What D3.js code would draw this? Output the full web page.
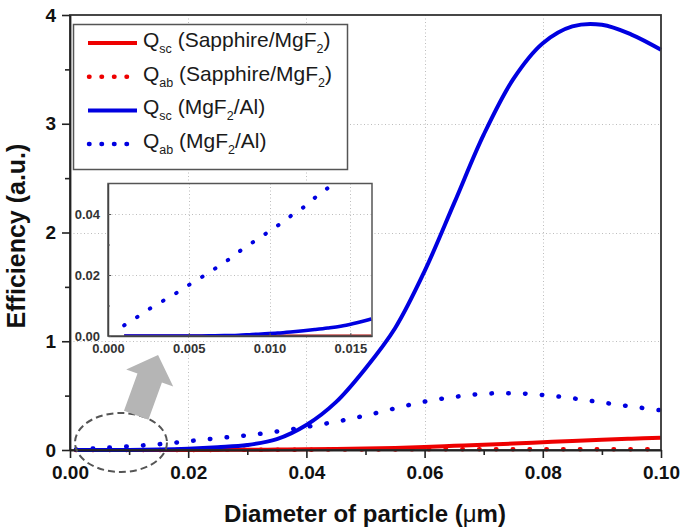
<!DOCTYPE html>
<html><head><meta charset="utf-8">
<script src="https://cdn.jsdelivr.net/npm/d3@7"></script>
<style>
html,body{margin:0;padding:0;background:#fff;}
svg{display:block;font-family:"Liberation Sans",Arial,sans-serif;}
</style>
</head><body>
<svg id="chart" width="685" height="531"></svg>
<script>
// ---------- data (main panel) ----------
const diam    = [0.001,0.005,0.010,0.015,0.020,0.025,0.030,0.035,0.040,0.045,0.050,0.055,0.060,0.065,0.070,0.075,0.080,0.085,0.090,0.095,0.100];
const qscAl   = [0,0.0001,0.0008,0.004,0.012,0.026,0.046,0.10,0.23,0.44,0.75,1.12,1.645,2.27,2.90,3.41,3.74,3.895,3.91,3.82,3.68];
const qabAl   = [0.0035,0.0167,0.034,0.053,0.081,0.109,0.135,0.17,0.213,0.26,0.317,0.383,0.445,0.488,0.517,0.522,0.506,0.476,0.437,0.40,0.365];
const qscSap  = [0,0,0,0,0.0003,0.001,0.002,0.004,0.006,0.009,0.013,0.019,0.028,0.038,0.048,0.059,0.071,0.083,0.094,0.104,0.112];
const qabSap  = [0,0,0.0001,0.0003,0.0006,0.001,0.0015,0.002,0.003,0.004,0.005,0.0055,0.006,0.0065,0.007,0.007,0.0072,0.0072,0.0072,0.0072,0.007];

// ---------- data (inset, zoom of 0 - 0.0163 µm) ----------
const insetDiam   = [0.001,0.0018,0.0026,0.0034,0.0042,0.005,0.0058,0.0066,0.0074,0.0081,0.0089,0.0097,0.0105,0.0113,0.0121,0.0128,0.0136,0.0144,0.0152,0.0163];
const insetQabAl  = [0.0035,0.0062,0.0090,0.0115,0.0140,0.0167,0.0193,0.0220,0.0248,0.0276,0.0305,0.0333,0.0362,0.0393,0.0422,0.0453,0.0485,0.0515,0.0545,0.0585];
const insetQscAl  = [0,0,0,0,0,0,0.00003,0.00008,0.00015,0.00025,0.0005,0.0007,0.00095,0.0013,0.0017,0.0021,0.0026,0.0032,0.0041,0.0056];
const insetQscSap = [0,0,0,0,0,0,0,0,0,0,0,0,0,0,0,0,0,0,0,0];

// ---------- ticks / labels ----------
const xTicks = [0,0.02,0.04,0.06,0.08,0.10];
const xMinor = [0.01,0.03,0.05,0.07,0.09];
const yTicks = [0,1,2,3,4];
const yMinor = [0.5,1.5,2.5,3.5];
const insetXTicks = [0,0.005,0.010,0.015];
const insetYTicks = [0,0.02,0.04];
const insetYMinor = [0.01,0.03];
const xTitle = "Diameter of particle (";
const yTitle = "Efficiency (a.u.)";
const legendItems = [
  {color:"#ee0000", dotted:false, parts:[["Q",0],["sc",1],[" (Sapphire/MgF",0],["2",1],[")",0]]},
  {color:"#ee0000", dotted:true,  parts:[["Q",0],["ab",1],[" (Sapphire/MgF",0],["2",1],[")",0]]},
  {color:"#0000e0", dotted:false, parts:[["Q",0],["sc",1],[" (MgF",0],["2",1],["/Al)",0]]},
  {color:"#0000e0", dotted:true,  parts:[["Q",0],["ab",1],[" (MgF",0],["2",1],["/Al)",0]]}
];
// annotation anchors (in main data units)
const ellipseC = [0.00863, 0.069], ellipseR = [0.00778, 0.271];
const arrowTail = [0.0112, 0.32], arrowTip = [0.0149, 0.874];

const RED = "#ee0000", BLUE = "#0000e0";
const svg = d3.select("#chart");
const x = d3.scaleLinear().domain([0,0.1]).range([70,661]);
const y = d3.scaleLinear().domain([0,4]).range([450,15]);

// grid
const grid = svg.append("g").attr("stroke","#bdbdbd").attr("stroke-width",1).attr("stroke-dasharray","1 2.5");
grid.selectAll(".gx").data(xTicks.slice(1,-1)).join("line")
  .attr("x1",d=>Math.round(x(d))+0.5).attr("x2",d=>Math.round(x(d))+0.5).attr("y1",y(4)).attr("y2",y(0));
grid.selectAll(".gy").data(yTicks.slice(1,-1)).join("line")
  .attr("y1",d=>Math.round(y(d))+0.5).attr("y2",d=>Math.round(y(d))+0.5).attr("x1",x(0)).attr("x2",x(0.1));

// lines
const mk = (arr)=> diam.map((d,i)=>[d,arr[i]]);
const line = d3.line().x(d=>x(d[0])).y(d=>y(d[1])).curve(d3.curveCatmullRom.alpha(0.5));
const dotted = (sel)=> sel.attr("stroke-width",4.5).attr("stroke-linecap","round").attr("stroke-dasharray","0.5 16.3");
dotted(svg.append("path").datum(mk(qabSap)).attr("d",line).attr("fill","none").attr("stroke",RED));
svg.append("path").datum(mk(qscSap)).attr("d",line).attr("fill","none").attr("stroke",RED).attr("stroke-width",4);
svg.append("path").datum(mk(qscAl)).attr("d",line).attr("fill","none").attr("stroke",BLUE).attr("stroke-width",4).attr("stroke-linejoin","round");
dotted(svg.append("path").datum(mk(qabAl)).attr("d",line).attr("fill","none").attr("stroke",BLUE));

// frame
svg.append("rect").attr("x",x(0)).attr("y",y(4)).attr("width",x(0.1)-x(0)).attr("height",y(0)-y(4))
  .attr("fill","none").attr("stroke","#333").attr("stroke-width",1.8);

// axes
const fontAx = 19;
const gx = svg.append("g").attr("transform",`translate(0,${y(0)})`)
  .call(d3.axisBottom(x).tickValues(xTicks).tickFormat(d3.format(".2f")).tickSize(8).tickPadding(7.5).tickSizeOuter(0));
svg.append("g").attr("transform",`translate(0,${y(0)})`)
  .call(d3.axisBottom(x).tickValues(xMinor).tickFormat("").tickSize(5).tickSizeOuter(0)).select(".domain").remove();
const gy = svg.append("g").attr("transform",`translate(${x(0)},0)`)
  .call(d3.axisLeft(y).tickValues(yTicks).tickFormat(d3.format("d")).tickSize(8).tickPadding(6).tickSizeOuter(0));
svg.append("g").attr("transform",`translate(${x(0)},0)`)
  .call(d3.axisLeft(y).tickValues(yMinor).tickFormat("").tickSize(5).tickSizeOuter(0)).select(".domain").remove();
svg.selectAll(".domain").attr("stroke","#222").attr("stroke-width",1.8);
svg.selectAll(".tick line").attr("stroke","#222").attr("stroke-width",1.6);
[gx,gy].forEach(g=>g.selectAll("text").attr("font-size",fontAx).attr("font-weight","bold").attr("fill","#111")
  .attr("font-family","'Liberation Sans',Arial,sans-serif"));

// axis titles
const xt = svg.append("text").attr("x",365).attr("y",522).attr("text-anchor","middle")
  .attr("font-size",24).attr("font-weight","bold").attr("fill","#111");
xt.append("tspan").text(xTitle);
xt.append("tspan").attr("font-weight","normal").text("\u03bc");
xt.append("tspan").text("m)");
svg.append("text").attr("transform","translate(25,236) rotate(-90)").attr("text-anchor","middle")
  .attr("font-size",25).attr("font-weight","bold").attr("fill","#111").text(yTitle);

// legend
const lg = svg.append("g");
lg.append("rect").attr("x",73.5).attr("y",24.5).attr("width",274).attr("height",145)
  .attr("fill","#fff").attr("stroke","#555").attr("stroke-width",1.5);
legendItems.forEach((it,i)=>{
  const ly = 43 + i*33.7, base = 53 + i*33.5;
  if(it.dotted){
    lg.append("line").attr("x1",89).attr("x2",127).attr("y1",ly).attr("y2",ly).attr("stroke",it.color)
      .attr("stroke-width",4.5).attr("stroke-linecap","round").attr("stroke-dasharray","0.5 12");
  } else {
    lg.append("line").attr("x1",88).attr("x2",137).attr("y1",ly).attr("y2",ly).attr("stroke",it.color).attr("stroke-width",4);
  }
  const t = lg.append("text").attr("x",143).attr("y",base).attr("font-size",21).attr("fill","#1a1a1a");
  it.parts.forEach(([s,sub])=>{
    if(sub) t.append("tspan").attr("font-size",12.5).attr("dy",6).text(s);
    else t.append("tspan").attr("font-size",21).attr("dy", t.selectAll("tspan").size() ? -6 : 0).text(s);
  });
});

// inset
const ix = d3.scaleLinear().domain([0,0.01634]).range([108,372]);
const iy = d3.scaleLinear().domain([0,0.05]).range([336,183.5]);
const ig = svg.append("g");
ig.append("rect").attr("x",ix(0)).attr("y",iy(0.05)).attr("width",ix(0.01634)-ix(0)).attr("height",iy(0)-iy(0.05)).attr("fill","#fff");
ig.append("clipPath").attr("id","iclip").append("rect")
  .attr("x",ix(0)).attr("y",iy(0.05)).attr("width",ix(0.01634)-ix(0)).attr("height",iy(0)-iy(0.05));
const igrid = ig.append("g").attr("stroke","#bdbdbd").attr("stroke-width",1).attr("stroke-dasharray","1 2.5");
igrid.selectAll(".a").data(insetXTicks.slice(1)).join("line")
  .attr("x1",d=>Math.round(ix(d))+0.5).attr("x2",d=>Math.round(ix(d))+0.5).attr("y1",iy(0.05)).attr("y2",iy(0));
igrid.selectAll(".b").data(insetYTicks.slice(1)).join("line")
  .attr("y1",d=>Math.round(iy(d))+0.5).attr("y2",d=>Math.round(iy(d))+0.5).attr("x1",ix(0)).attr("x2",ix(0.01634));
const imk = (arr)=> insetDiam.map((d,i)=>[d,arr[i]]);
const iline = d3.line().x(d=>ix(d[0])).y(d=>iy(d[1])).curve(d3.curveMonotoneX);
const il = ig.append("g").attr("clip-path","url(#iclip)");
il.append("path").datum(imk(insetQscSap)).attr("d",iline).attr("fill","none").attr("stroke","#b00000").attr("stroke-width",3);
il.append("path").datum(imk(insetQscAl)).attr("d",iline).attr("fill","none").attr("stroke",BLUE).attr("stroke-width",3.5);
il.append("path").datum(imk(insetQabAl)).attr("d",iline).attr("fill","none").attr("stroke",BLUE)
  .attr("stroke-width",4).attr("stroke-linecap","round").attr("stroke-dasharray","0.5 14.8");
ig.append("rect").attr("x",ix(0)).attr("y",iy(0.05)).attr("width",ix(0.01634)-ix(0)).attr("height",iy(0)-iy(0.05))
  .attr("fill","none").attr("stroke","#555").attr("stroke-width",1.5);
const igx = ig.append("g").attr("transform",`translate(0,${iy(0)})`)
  .call(d3.axisBottom(ix).tickValues(insetXTicks).tickFormat(d3.format(".3f")).tickSize(-3).tickPadding(8).tickSizeOuter(0));
const igy = ig.append("g").attr("transform",`translate(${ix(0)},0)`)
  .call(d3.axisLeft(iy).tickValues(insetYTicks).tickFormat(d3.format(".2f")).tickSize(-3).tickPadding(8).tickSizeOuter(0));
ig.append("g").attr("transform",`translate(${ix(0)},0)`)
  .call(d3.axisLeft(iy).tickValues(insetYMinor).tickFormat("").tickSize(-2).tickSizeOuter(0)).select(".domain").remove();
ig.selectAll(".domain").attr("stroke","#444").attr("stroke-width",1.5);
ig.selectAll(".tick line").attr("stroke","#555");
[igx,igy].forEach(g=>g.selectAll("text").attr("font-size",13).attr("font-weight","bold").attr("fill","#333")
  .attr("font-family","'Liberation Sans',Arial,sans-serif"));

// ellipse annotation
svg.append("ellipse").attr("cx",x(ellipseC[0])).attr("cy",y(ellipseC[1]))
  .attr("rx",x(ellipseR[0])-x(0)).attr("ry",y(0)-y(ellipseR[1]))
  .attr("fill","none").attr("stroke","#555").attr("stroke-width",2).attr("stroke-dasharray","7 4");

// arrow annotation
(function(){
  const tx=x(arrowTail[0]), ty=y(arrowTail[1]), px=x(arrowTip[0]), py=y(arrowTip[1]);
  const dx=px-tx, dy=py-ty, L=Math.hypot(dx,dy), ux=dx/L, uy=dy/L, nx=-uy, ny=ux;
  const sw=13, hw=25, hl=24.5, bx=px-ux*hl, by=py-uy*hl;
  const pts=[[tx+nx*sw,ty+ny*sw],[bx+nx*sw,by+ny*sw],[bx+nx*hw,by+ny*hw],[px,py],[bx-nx*hw,by-ny*hw],[bx-nx*sw,by-ny*sw],[tx-nx*sw,ty-ny*sw]];
  svg.append("polygon").attr("points",pts.map(p=>p.join(",")).join(" ")).attr("fill","#b5b5b5");
})();
</script>
</body></html>
